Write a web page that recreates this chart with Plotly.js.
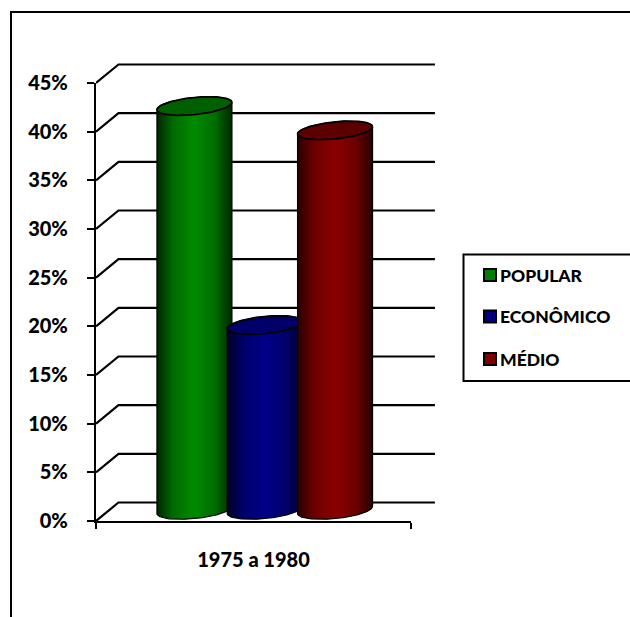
<!DOCTYPE html>
<html>
<head>
<meta charset="utf-8">
<script src="https://cdn.plot.ly/plotly-3.0.1.min.js"></script>
<style>html,body{margin:0;padding:0;background:#fff;overflow:hidden}</style>
</head>
<body>
<div id="chart" style="width:630px;height:617px"></div>
<script>
// Share of housing by income band, one period
const period = '1975 a 1980';
const seriesNames = ['POPULAR', 'ECONÔMICO', 'MÉDIO'];
const seriesValues = [41.5, 19, 39];
const gridLevels = [0, 5, 10, 15, 20, 25, 30, 35, 40, 45];
const gridLabels = ['0%', '5%', '10%', '15%', '20%', '25%', '30%', '35%', '40%', '45%'];

const sideDark = ['#002600', '#000026', '#280000'];
const sideMid = ['#006c00', '#00006c', '#6c0000'];
const sideBright = ['#008a00', '#00008a', '#8a0000'];
const capFill = ['#006000', '#000068', '#5c0000'];
const swatchFill = ['#008000', '#000080', '#800000'];

const FONT = 'Lato, "Open Sans", sans-serif';
const INK = '#000000';
const W = 630, H = 617;

// Outer box holds the projected scene; the axes occupy its front-plane part
const M = {l: 96, r: 185, t: 55, b: 96};
const boxW = W - M.l - M.r, boxH = H - M.t - M.b;
const frontW = 315, frontH = 438;
const pxPerX = frontW, pxPerPct = frontH / 45;

const px = v => (v - M.l) / boxW;
const py = v => 1 - (v - M.t) / boxH;

// Oblique projection: offset of the back plane in axis units
const depthX = 0.0714, depthY = 1.9, backRight = 1.076;
const cylBase = 1.13, cylGap = 0.2232, cylHalf = 0.119;
const capRise = 0.88, capShear = 0.37, STEPS = 60;

const sceneAxes = {xaxis: 'x2', yaxis: 'y2', showlegend: false, hoverinfo: 'skip', mode: 'lines'};

// Keeps the front-plane axes in the figure
const traces = [{x: [null], y: [null], mode: 'lines', showlegend: false, hoverinfo: 'skip'}];

// Floor and back-wall lines
const gx = [], gy = [];
gridLevels.forEach(v => {
  gx.push(0, depthX, backRight, null);
  gy.push(v, v + depthY, v + depthY, null);
});
traces.push({...sceneAxes, x: gx, y: gy, line: {color: INK, width: 2.2}});

// One cylinder per series: a shaded side, then the darker cap
seriesValues.forEach((value, i) => {
  const cx = 0.5 + depthX / 2 + (i - 1) * cylGap;
  const top = value + cylBase;
  const sx = [], sy = [];
  for (let k = 0; k <= STEPS; k++) {
    const t = Math.PI * k / STEPS;
    sx.push(cx + cylHalf * Math.cos(t));
    sy.push(cylBase - capRise * Math.sin(t) + capShear * Math.cos(t));
  }
  for (let k = 0; k <= STEPS; k++) {
    const t = Math.PI + Math.PI * k / STEPS;
    sx.push(cx + cylHalf * Math.cos(t));
    sy.push(top - capRise * Math.sin(t) + capShear * Math.cos(t));
  }
  sx.push(sx[0]); sy.push(sy[0]);
  traces.push({...sceneAxes, x: sx, y: sy, fill: 'toself', name: seriesNames[i],
    line: {color: INK, width: 1.2},
    fillgradient: {type: 'horizontal', colorscale: [
      [0, sideDark[i]], [0.22, sideMid[i]], [0.5, sideBright[i]], [0.78, sideMid[i]], [1, sideDark[i]]
    ]}});

  const cxs = [], cys = [];
  for (let k = 0; k <= 2 * STEPS; k++) {
    const t = Math.PI * k / STEPS;
    cxs.push(cx + cylHalf * Math.cos(t));
    cys.push(top + capRise * Math.sin(t) + capShear * Math.cos(t));
  }
  traces.push({...sceneAxes, x: cxs, y: cys, fill: 'toself', fillcolor: capFill[i],
    line: {color: INK, width: 1.8}});
});

// Outer frame and legend box, cut off by the page edge on the right
const shapes = [
  {type: 'path', xref: 'paper', yref: 'paper',
   path: `M${px(11)},${py(H + 2)} L${px(11)},${py(12)} L${px(W + 2)},${py(12)}`,
   line: {color: INK, width: 2}},
  {type: 'rect', xref: 'paper', yref: 'paper', x0: px(463.5), x1: px(W + 4), y0: py(254.5), y1: py(381),
   fillcolor: '#ffffff', line: {color: INK, width: 2}}
];
const annotations = [];
const legendRows = [275, 316.5, 359];
seriesNames.forEach((name, i) => {
  const y = legendRows[i];
  shapes.push({type: 'rect', xref: 'paper', yref: 'paper', x0: px(484), x1: px(496), y0: py(y - 6), y1: py(y + 6),
    fillcolor: swatchFill[i], line: {color: INK, width: 2}});
  annotations.push({xref: 'paper', yref: 'paper', x: px(498), y: py(y), xanchor: 'left', yanchor: 'middle',
    text: name, showarrow: false, font: {family: FONT, size: 17.5, color: INK, weight: 900}});
});

const layout = {
  width: W, height: H,
  margin: {l: M.l, r: M.r, t: M.t, b: M.b, pad: 0},
  paper_bgcolor: '#ffffff', plot_bgcolor: 'rgba(0,0,0,0)',
  showlegend: false,
  xaxis: {
    domain: [0, frontW / boxW], anchor: 'y',
    range: [0, 1], showgrid: false, zeroline: false, showline: true, linecolor: INK, linewidth: 2.2,
    tickmode: 'array', tickvals: [0.5], ticktext: [period], ticks: '', ticklabelstandoff: 20,
    tickfont: {family: FONT, size: 20, color: INK, weight: 900},
    minor: {tickmode: 'array', tickvals: [0, 1], ticks: 'outside', ticklen: 6, tickwidth: 2, tickcolor: INK, showgrid: false}
  },
  yaxis: {
    domain: [0, frontH / boxH], anchor: 'x',
    range: [0, 45], showgrid: false, zeroline: false, showline: true, linecolor: INK, linewidth: 2.2,
    tickmode: 'array', tickvals: gridLevels, ticktext: gridLabels,
    ticks: 'outside', ticklen: 7, tickwidth: 2, tickcolor: INK, ticklabelstandoff: 15,
    tickfont: {family: FONT, size: 20, color: INK, weight: 900}
  },
  // Same scale as the front axes, extended to take in the back plane
  xaxis2: {domain: [0, 1], anchor: 'y2', range: [0, boxW / pxPerX], visible: false},
  yaxis2: {domain: [0, 1], anchor: 'x2', range: [0, boxH / pxPerPct], visible: false},
  shapes, annotations
};

Plotly.newPlot('chart', traces, layout, {displayModeBar: false, responsive: false});
</script>
</body>
</html>
